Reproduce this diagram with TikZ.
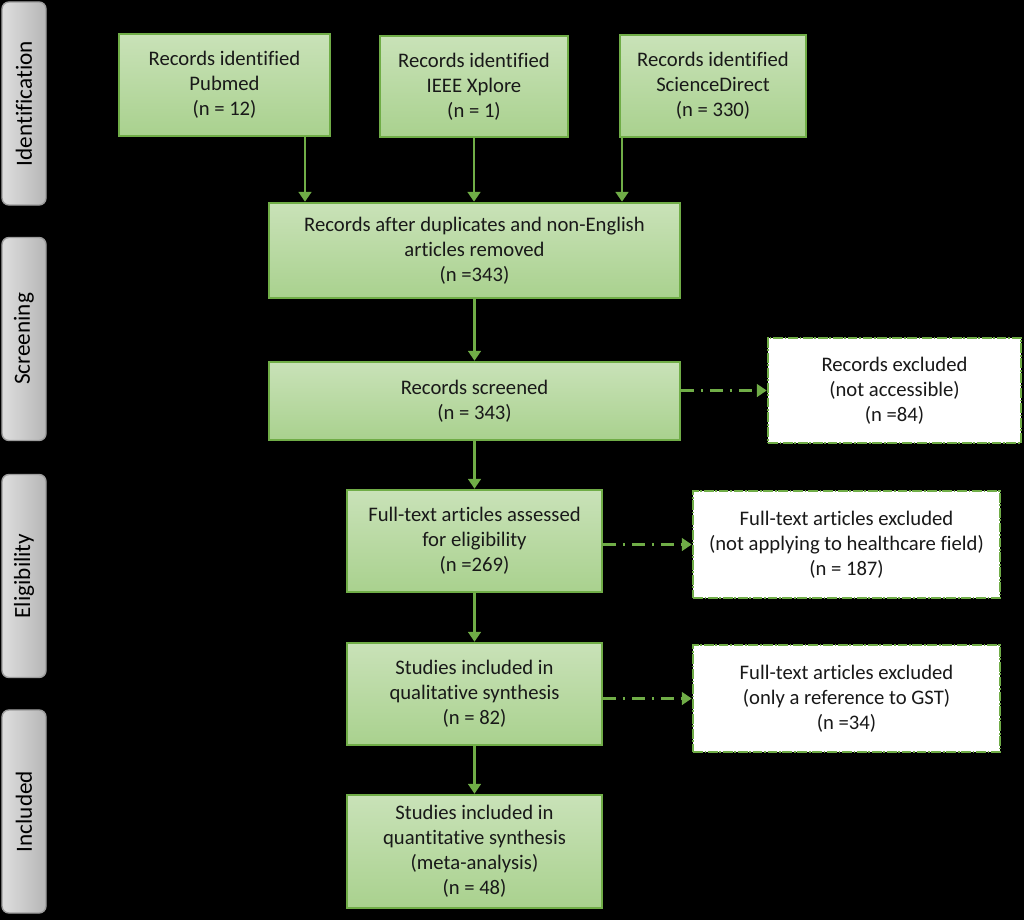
\documentclass[tikz,border=0pt]{standalone}
\usepackage{fontspec}
\setmainfont[Ligatures=NoCommon]{Carlito}
\usetikzlibrary{arrows.meta,positioning}

\definecolor{prismagreen}{HTML}{70AD47}
\definecolor{prismalight}{HTML}{C9E2B8}
\definecolor{prismamid}{HTML}{A9D18E}
\definecolor{phasegray}{HTML}{D6D6D6}
\definecolor{phaseedge}{HTML}{9C9C9C}

\tikzset{
  recbox/.style={draw=prismagreen, line width=1.8pt, top color=prismalight, bottom color=prismamid,
    align=center, inner sep=2pt, text=black!90,
    font=\fontsize{14.7}{17.7}\selectfont},
  exclbox/.style={draw=prismagreen, line width=1.8pt, fill=white,
    dash pattern=on 7pt off 1.2pt on 1.2pt off 1.2pt,
    align=center, inner sep=2pt, text=black!90,
    font=\fontsize{14.7}{17.7}\selectfont},
  phasebox/.style={draw=phaseedge, line width=1pt, rounded corners=5pt,
    left color=phasegray!80!white, right color=phasegray!85!black,
    rotate=90, minimum width=5.075cm, minimum height=1.1cm,
    font=\fontsize{16.5}{19}\selectfont},
  flow/.style={draw=prismagreen, line width=1.8pt, -{Triangle[width=9pt,length=7pt]}},
  skip/.style={draw=prismagreen, line width=1.8pt, dash pattern=on 9pt off 5pt on 1.5pt off 5pt,
    -{Triangle[width=9pt,length=7pt]}},
}

\begin{document}
\begin{tikzpicture}[x=0.025cm, y=-0.025cm]
  \fill[black] (0,0) rectangle (1024,920);
  \useasboundingbox (0,0) rectangle (1024,920);

  % phases
  \node[phasebox] (ident) at (24,103.5) {Identification};
  \node[phasebox] (screen) at (24,339) {Screening};
  \node[phasebox] (elig) at (24,576) {Eligibility};
  \node[phasebox] (incl) at (24,811.5) {Included};

  % identification
  \node[recbox, minimum width=5.275cm, minimum height=2.55cm] (pubmed) at (224.5,85)
    {Records identified\\Pubmed\\(n = 12)};
  \node[recbox, minimum width=4.7cm, minimum height=2.525cm] (ieee) at (474,86.5)
    {Records identified\\IEEE Xplore\\(n = 1)};
  \node[recbox, minimum width=4.65cm, minimum height=2.55cm] (scidir) at (713,86)
    {Records identified\\ScienceDirect\\(n = 330)};

  % screening
  \node[recbox, minimum width=10.275cm, minimum height=2.375cm] (dedup) at (474.5,250.5)
    {Records after duplicates and non-English\\articles removed\\(n =343)};
  \node[recbox, minimum width=10.275cm, minimum height=1.95cm] (screened) at (474.5,401)
    {Records screened\\(n = 343)};
  \node[exclbox, minimum width=6.325cm, minimum height=2.625cm] (excla) at (894.5,390.5)
    {Records excluded\\(not accessible)\\(n =84)};

  % eligibility
  \node[recbox, minimum width=6.375cm, minimum height=2.55cm] (fulltext) at (474.5,541)
    {Full-text articles assessed\\for eligibility\\(n =269)};
  \node[exclbox, minimum width=7.675cm, minimum height=2.675cm] (exclb) at (846.5,544.5)
    {Full-text articles excluded\\(not applying to healthcare field)\\(n = 187)};

  % included
  \node[recbox, minimum width=6.375cm, minimum height=2.55cm] (qual) at (474.5,694)
    {Studies included in\\qualitative synthesis\\(n = 82)};
  \node[exclbox, minimum width=7.675cm, minimum height=2.675cm] (exclc) at (846.5,698.5)
    {Full-text articles excluded\\(only a reference to GST)\\(n =34)};
  \node[recbox, minimum width=6.375cm, minimum height=2.825cm] (quant) at (474.5,851.5)
    {Studies included in\\quantitative synthesis\\(meta-analysis)\\(n = 48)};

  % arrows
  \draw[flow] (pubmed.south -| 305,0) -- (dedup.north -| 305,0);
  \draw[flow] (ieee.south) -- (ieee.south |- dedup.north);
  \draw[flow] (scidir.south -| 622,0) -- (dedup.north -| 622,0);
  \draw[flow] (dedup) -- (screened);
  \draw[flow] (screened) -- (fulltext);
  \draw[flow] (fulltext) -- (qual);
  \draw[flow] (qual) -- (quant);
  \draw[skip] (screened.east |- excla.west) -- (excla.west);
  \draw[skip] (fulltext.east |- exclb.west) -- (exclb.west);
  \draw[skip] (qual.east |- exclc.west) -- (exclc.west);
\end{tikzpicture}
\end{document}
